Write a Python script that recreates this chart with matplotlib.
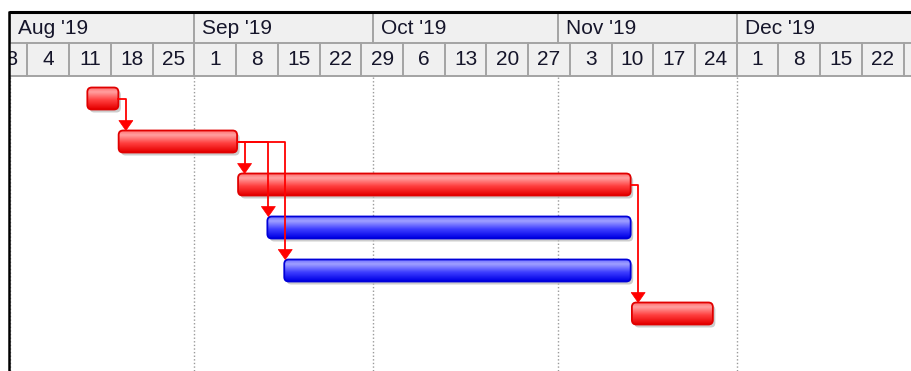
import matplotlib
matplotlib.use("Agg")
import matplotlib.pyplot as plt
import matplotlib.dates as mdates
from matplotlib.patches import FancyBboxPatch, Polygon, Rectangle
import numpy as np
import pandas as pd

# ---------------- data ----------------
task_starts = ["2019-08-14 01:00", "2019-08-19 07:00", "2019-09-08 08:00",
               "2019-09-13 06:00", "2019-09-16 02:00", "2019-11-13 10:00"]
task_ends = ["2019-08-19 06:00", "2019-09-08 04:00", "2019-11-13 05:00",
             "2019-11-13 05:00", "2019-11-13 05:00", "2019-11-27 00:00"]
task_critical = [True, True, True, False, False, True]
task_predecessor = [None, 0, 1, 1, 1, 2]
month_starts = ["2019-08-01", "2019-09-01", "2019-10-01", "2019-11-01", "2019-12-01"]
week_labels = pd.date_range("2019-07-28", "2019-12-22", freq="7D")
week_lines = pd.date_range("2019-07-28", "2019-12-29", freq="7D")
view_start = "2019-07-31 21:30"
view_end = "2019-12-30 10:00"

# ---------------- layout ----------------
W, H = 912, 371
L = 9
plt.rcParams["font.family"] = ["Liberation Sans Narrow", "Liberation Sans", "DejaVu Sans"]
fig = plt.figure(figsize=(W / 100, H / 100), dpi=100)
ax = fig.add_axes([L / W, 0, (W - L) / W, 1])
x0 = mdates.date2num(pd.Timestamp(view_start))
x1 = mdates.date2num(pd.Timestamp(view_end))
ax.set_xlim(x0, x1)
ax.set_ylim(H, 0)
ax.axis("off")
ppd = (W - L) / (x1 - x0)  # pixels per day

HDR_TOP, HDR_MID, HDR_BOT = 12, 42.5, 75.5
txt_color = "#15152a"
grid_gray = "#a3a3a3"
FS = 15

# header background
ax.add_patch(Rectangle((x0, HDR_TOP), x1 - x0, HDR_BOT - HDR_TOP, fc="#f0f0f0", ec="none", zorder=1))
ax.plot([x0, x1], [HDR_MID, HDR_MID], color=grid_gray, lw=1.4, zorder=2, solid_capstyle="butt")
ax.plot([x0, x1], [HDR_BOT, HDR_BOT], color=grid_gray, lw=1.4, zorder=2, solid_capstyle="butt")

ms = [mdates.date2num(pd.Timestamp(m)) for m in month_starts]
for m in ms:
    ax.plot([m, m], [HDR_TOP, HDR_MID], color=grid_gray, lw=1.4, zorder=2)
    lab = mdates.num2date(m).strftime("%b '%y")
    ax.text(max(m, x0) + 8 / ppd, 28, lab, fontsize=FS, color=txt_color,
            ha="left", va="center", zorder=3, clip_on=True)
    # dotted month gridline in body
    ax.plot([m, m], [HDR_BOT + 1, H], color="#9a9a9a", lw=1.0,
            linestyle=(0, (1, 1.6)), zorder=1)

for wk in week_lines:
    w = mdates.date2num(wk)
    ax.plot([w, w], [HDR_MID, HDR_BOT], color=grid_gray, lw=1.4, zorder=2)
for wk in week_labels:
    w = mdates.date2num(wk)
    ax.text(w + 3.5, 59.5, str(wk.day), fontsize=FS, color=txt_color,
            ha="center", va="center", zorder=3, clip_on=True)

# borders
ax.plot([x0, x1], [HDR_TOP - 0.5, HDR_TOP - 0.5], color="black", lw=2.2, zorder=5,
        clip_on=False, solid_capstyle="butt")
ax.plot([x0 + 0.2 / ppd, x0 + 0.2 / ppd], [HDR_TOP - 1.5, H], color="black", lw=1.8,
        zorder=5, clip_on=False, solid_capstyle="butt")

# ---------------- bars ----------------
ROW0, ROWH, BARH = 98.5, 43, 22
RAD = 4.5


def ramp(stops, n=64):
    t = np.linspace(0, 1, n)
    pos = [s[0] for s in stops]
    cols = np.array([matplotlib.colors.to_rgb(s[1]) for s in stops])
    out = np.stack([np.interp(t, pos, cols[:, k]) for k in range(3)], axis=1)
    return out[:, None, :]


red_grad = ramp([(0, "#ff6a6a"), (0.22, "#ffa0a0"), (0.6, "#ff3e3e"), (1, "#e60000")])
blue_grad = ramp([(0, "#6a6aff"), (0.22, "#a0a0ff"), (0.6, "#3e3eff"), (1, "#0000e6")])

geo = []
for i, (s, e) in enumerate(zip(task_starts, task_ends)):
    xs = mdates.date2num(pd.Timestamp(s))
    xe = mdates.date2num(pd.Timestamp(e))
    yc = ROW0 + ROWH * i
    geo.append((xs, xe, yc))
    r = RAD / ppd
    # shadow
    sh = FancyBboxPatch((xs + 2.5 / ppd, yc - BARH / 2 + 3), xe - xs, BARH,
                        boxstyle=f"round,pad=0,rounding_size={r}", mutation_aspect=ppd,
                        fc="#bdbdbd", ec="none", alpha=0.75, zorder=3)
    ax.add_patch(sh)
    body = FancyBboxPatch((xs, yc - BARH / 2), xe - xs, BARH,
                          boxstyle=f"round,pad=0,rounding_size={r}", mutation_aspect=ppd,
                          fc="none", ec="none", zorder=4)
    ax.add_patch(body)
    grad = red_grad if task_critical[i] else blue_grad
    im = ax.imshow(grad, extent=(xs, xe, yc + BARH / 2, yc - BARH / 2), aspect="auto",
                   origin="upper", zorder=4, interpolation="bilinear")
    im.set_clip_path(body)
    edge = FancyBboxPatch((xs, yc - BARH / 2), xe - xs, BARH,
                          boxstyle=f"round,pad=0,rounding_size={r}", mutation_aspect=ppd,
                          fc="none", ec="#e00000" if task_critical[i] else "#0000d8",
                          lw=1.3, zorder=5)
    ax.add_patch(edge)

ax.set_xlim(x0, x1)
ax.set_ylim(H, 0)

# ---------------- links ----------------
LINK = "#ff0000"
for i, p in enumerate(task_predecessor):
    if p is None:
        continue
    ps, pe, pyc = geo[p]
    xs, xe, yc = geo[i]
    xa = max(pe + 7.5 / ppd, xs + 1 / ppd)
    top = yc - BARH / 2
    ax.plot([pe, xa, xa], [pyc, pyc, top - 9], color=LINK, lw=1.3, zorder=6,
            solid_joinstyle="round")
    ax.add_patch(Polygon([(xa - 7 / ppd, top - 10), (xa + 7 / ppd, top - 10), (xa, top)],
                         closed=True, fc=LINK, ec=LINK, lw=0.5, zorder=7))

fig.savefig("out.png", dpi=100, facecolor="white")
